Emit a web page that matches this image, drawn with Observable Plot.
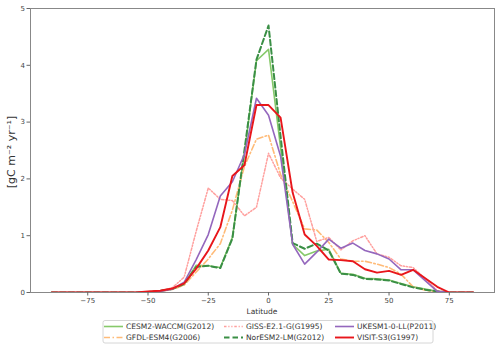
<!DOCTYPE html>
<html>
<head>
<meta charset="utf-8">
<script src="https://cdn.jsdelivr.net/npm/d3@7"></script>
<script src="https://cdn.jsdelivr.net/npm/@observablehq/plot@0.6"></script>
<style>
  html, body { margin: 0; padding: 0; background: #fff; }
  #chart svg { font-family: "DejaVu Sans", sans-serif; }
</style>
</head>
<body>
<div id="chart"></div>
<script>
const lats = [-90,-85,-80,-75,-70,-65,-60,-55,-50,-45,-40,-35,-30,-25,-20,-15,-10,-5,0,5,10,15,20,25,30,35,40,45,50,55,60,65,70,75,80,85];

const cesm   = [0,0,0,0,0,0,0,0, 0.01,0.03,0.06,0.15,0.48,0.47,0.44,0.97,2.45,4.08,4.28,2.55,0.85,0.65,0.73,0.76,0.34,0.32,0.25,0.24,0.22,0.16,0.10,0.06,0.02,0,0,0];
const gfdl   = [0,0,0,0,0,0,0,0, 0.01,0.02,0.05,0.13,0.36,0.59,0.86,1.45,2.22,2.70,2.77,2.08,1.60,1.12,1.10,0.88,0.59,0.55,0.55,0.50,0.44,0.32,0.10,0.04,0.01,0,0,0];
const giss   = [0,0,0,0,0,0,0,0, 0.01,0.03,0.08,0.27,1.08,1.84,1.64,1.62,1.35,1.50,2.45,2.02,1.82,1.64,0.90,0.97,0.75,0.91,1.00,0.68,0.62,0.47,0.44,0.24,0.03,0,0,0];
const noresm = [0,0,0,0,0,0,0,0, 0.01,0.03,0.06,0.15,0.45,0.47,0.43,0.95,2.50,4.10,4.70,2.75,0.87,0.77,0.86,0.74,0.33,0.31,0.24,0.23,0.21,0.15,0.09,0.05,0.02,0,0,0];
const ukesm  = [0,0,0,0,0,0,0,0, 0.01,0.02,0.06,0.18,0.58,1.02,1.70,1.95,2.43,3.42,3.12,2.40,0.85,0.50,0.71,0.94,0.78,0.87,0.74,0.68,0.59,0.40,0.40,0.21,0.02,0,0,0];
const visit  = [0,0,0,0,0,0,0,0, 0.02,0.03,0.07,0.16,0.42,0.74,1.15,2.05,2.24,3.30,3.30,3.08,1.76,1.02,0.82,0.58,0.57,0.55,0.41,0.35,0.38,0.31,0.40,0.25,0.10,0,0,0];

const names = ["CESM2-WACCM(G2012)","GFDL-ESM4(G2006)","GISS-E2.1-G(G1995)","NorESM2-LM(G2012)","UKESM1-0-LL(P2011)","VISIT-S3(G1997)"];
const xTicks = [-75,-50,-25,0,25,50,75];
const yTicks = [0,1,2,3,4,5];

const series = [
  {name: names[0], values: cesm,   color: "#86c96a", width: 1.6, dash: "none"},
  {name: names[1], values: gfdl,   color: "#ffbb78", width: 1.6, dash: "6 2.5 1.5 2.5"},
  {name: names[2], values: giss,   color: "#ff9f9d", width: 1.5, dash: "2.5 1.8 1.2 1.8 1.2 1.8"},
  {name: names[3], values: noresm, color: "#3a8f45", width: 2.0, dash: "5.5 3"},
  {name: names[4], values: ukesm,  color: "#9467bd", width: 1.6, dash: "none"},
  {name: names[5], values: visit,  color: "#e8161b", width: 1.9, dash: "none"}
];

const lineMarks = series.map(s => Plot.line(
  lats.map((lat, i) => ({lat, v: s.values[i]})),
  {x: "lat", y: "v", stroke: s.color, strokeWidth: s.width, strokeDasharray: s.dash, clip: true}
));

const W = 500, H = 350;
const chart = Plot.plot({
  width: W, height: H,
  marginLeft: 30, marginRight: 6, marginTop: 8, marginBottom: 58,
  x: {domain: [-98.75, 93.75]},
  y: {domain: [0, 5]},
  style: {fontFamily: "DejaVu Sans, sans-serif", background: "#fff"},
  marks: [
    Plot.frame({stroke: "#888", strokeWidth: 1}),
    ...lineMarks,
    Plot.axisX({ticks: xTicks, tickSize: 3.5, tickPadding: 2, fontSize: 7, label: null, stroke: "#666", fill: "#444"}),
    Plot.axisY({ticks: yTicks, tickFormat: d3.format("d"), tickSize: 3.5, tickPadding: 2, fontSize: 7, label: null, stroke: "#666", fill: "#444"})
  ]
});
document.getElementById("chart").appendChild(chart);

const svg = d3.select(chart);
svg.append("text").attr("x", 262).attr("y", 314).attr("text-anchor", "middle")
  .attr("font-size", 7.5).attr("fill", "#333").text("Latitude");
svg.append("text").attr("transform", "translate(15,152) rotate(-90)").attr("text-anchor", "middle")
  .attr("font-size", 11).attr("fill", "#333").text("[gC m\u207B\u00B2 yr\u207B\u00B9]");

const lg = svg.append("g");
lg.append("rect").attr("x", 103).attr("y", 320.5).attr("width", 330).attr("height", 22.5)
  .attr("rx", 2).attr("fill", "#fff").attr("stroke", "#ccc").attr("stroke-width", 0.8);
const cols = [104, 224, 335];
const rows = [326.5, 337.5];
series.forEach((s, i) => {
  const cx = cols[Math.floor(i / 2)], cy = rows[i % 2];
  lg.append("line").attr("x1", cx).attr("x2", cx + 19).attr("y1", cy).attr("y2", cy)
    .attr("stroke", s.color).attr("stroke-width", s.width)
    .attr("stroke-dasharray", s.dash);
  lg.append("text").attr("x", cx + 22).attr("y", cy).attr("dy", "0.35em")
    .attr("text-anchor", "start")
    .attr("font-size", 7.5).attr("fill", "#333").text(s.name);
});
</script>
</body>
</html>
